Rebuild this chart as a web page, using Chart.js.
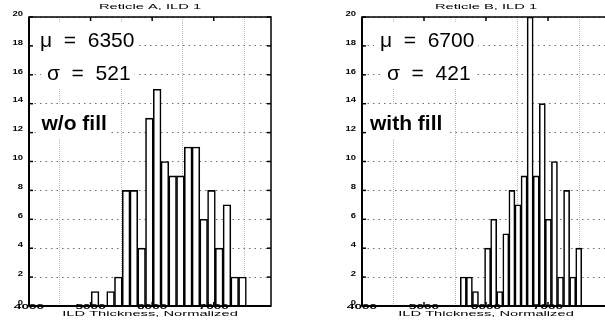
<!DOCTYPE html>
<html>
<head>
<meta charset="utf-8">
<script src="https://cdn.jsdelivr.net/npm/chart.js@4.4.1/dist/chart.umd.min.js"></script>
<style>
  html, body { margin: 0; padding: 0; background: #fff; }
  body { width: 605px; height: 322px; overflow: hidden; position: relative; }
  canvas { position: absolute; top: 0; }
  #histA { left: 0; }
  #histB { left: 300px; }
</style>
</head>
<body>
<canvas id="histA" width="300" height="322"></canvas>
<canvas id="histB" width="315" height="322"></canvas>
<script>
// Reticle A (w/o fill): bin centres and counts
const binsA = [5073, 5199, 5325, 5451, 5577, 5703, 5829, 5955, 6081, 6207,
               6333, 6459, 6585, 6711, 6837, 6963, 7089, 7215, 7341, 7467];
const countsA = [1, 0, 1, 2, 8, 8, 4, 13, 15, 10, 9, 9, 11, 11, 6, 8, 4, 7, 2, 2];

// Reticle B (with fill): bin centres and counts
const binsB = [5634, 5732, 5830, 5928, 6026, 6124, 6222, 6320, 6418, 6516,
               6614, 6712, 6810, 6908, 7006, 7104, 7202, 7300, 7398, 7496];
const countsB = [2, 2, 1, 0, 4, 6, 1, 5, 8, 7, 9, 20, 9, 14, 6, 10, 2, 8, 2, 4];

const xTicks = [4000, 5000, 6000, 7000];
const yTicks = [0, 2, 4, 6, 8, 10, 12, 14, 16, 18, 20];

const FONT = '"Liberation Sans", Arial, sans-serif';

// small axis text is drawn squat and wide
function wideText(ctx, text, x, y, sx, align) {
    ctx.save();
    ctx.translate(x, y);
    ctx.scale(sx, 1);
    ctx.textAlign = align;
    ctx.textBaseline = 'middle';
    ctx.fillText(text, 0, 0);
    ctx.restore();
}

function line(ctx, x1, y1, x2, y2) {
    ctx.beginPath();
    ctx.moveTo(x1, y1);
    ctx.lineTo(x2, y2);
    ctx.stroke();
}

// Boxed axes, inward ticks, labels and the text notes
const frame = {
    id: 'frame',
    beforeDatasetsDraw(chart, args, opts) {
        const { ctx } = chart;
        const x = chart.scales.x, y = chart.scales.y;
        ctx.save();
        opts.notes.forEach(n => {
            ctx.font = (n.bold ? 'bold ' : '') + '21px ' + FONT;
            const px = x.getPixelForValue(n.x);
            const py = y.getPixelForValue(n.y);
            const w = ctx.measureText(n.text).width;
            ctx.fillStyle = '#fff';
            ctx.fillRect(px - 6, py - 25, w + 10, 34);
            ctx.fillStyle = '#000';
            ctx.textAlign = 'left';
            ctx.textBaseline = 'alphabetic';
            ctx.fillText(n.text, px, py);
        });
        ctx.restore();
    },
    afterDatasetsDraw(chart, args, opts) {
        const { ctx, chartArea: a } = chart;
        const x = chart.scales.x, y = chart.scales.y;
        ctx.save();
        ctx.strokeStyle = '#000';
        ctx.lineWidth = 1.5;
        ctx.strokeRect(a.left, a.top, a.right - a.left, a.bottom - a.top);
        ctx.lineWidth = 2;
        line(ctx, a.left, a.top, a.left, a.bottom);
        line(ctx, a.left, a.bottom, a.right, a.bottom);

        ctx.lineWidth = 1.5;
        xTicks.forEach(v => {
            const px = x.getPixelForValue(v);
            line(ctx, px, a.bottom, px, a.bottom - 4);
            line(ctx, px, a.top, px, a.top + 4);
        });
        yTicks.forEach(v => {
            const py = y.getPixelForValue(v);
            line(ctx, a.left, py, a.left + 4, py);
            line(ctx, a.right, py, a.right - 4, py);
        });

        ctx.fillStyle = '#000';
        ctx.font = 'bold 6.5px ' + FONT;
        yTicks.forEach(v => {
            wideText(ctx, String(v), a.left - 6, y.getPixelForValue(v) - 3, 1.45, 'right');
        });
        xTicks.forEach(v => {
            wideText(ctx, String(v), x.getPixelForValue(v), a.bottom + 1, 2.1, 'center');
        });

        const mid = (a.left + a.right) / 2;
        ctx.font = '7px ' + FONT;
        wideText(ctx, opts.title, mid, 7, 2.1, 'center');
        wideText(ctx, 'ILD Thickness, Normalized', mid, 314, 2.1, 'center');
        ctx.restore();
    }
};

function makeHist(canvasId, bins, counts, xMax, padding, title, notes) {
    return new Chart(document.getElementById(canvasId), {
        type: 'bar',
        data: {
            datasets: [{
                data: bins.map((b, i) => ({ x: b, y: counts[i] })),
                backgroundColor: '#fff',
                borderColor: '#000',
                borderWidth: 1.6,
                categoryPercentage: 1,
                barPercentage: 1
            }]
        },
        options: {
            responsive: false,
            animation: false,
            events: [],
            layout: { padding: padding },
            plugins: {
                legend: { display: false },
                tooltip: { enabled: false },
                frame: { title: title, notes: notes }
            },
            scales: {
                x: {
                    type: 'linear',
                    min: 4000,
                    max: xMax,
                    offset: false,
                    afterBuildTicks: s => { s.ticks = xTicks.map(v => ({ value: v })); },
                    ticks: { display: false },
                    grid: { drawTicks: false, color: '#bdbdbd', lineWidth: 1 },
                    border: { display: false, dash: [1, 1] }
                },
                y: {
                    min: 0,
                    max: 20,
                    afterBuildTicks: s => { s.ticks = yTicks.map(v => ({ value: v })); },
                    ticks: { display: false },
                    grid: { drawTicks: false, color: '#6e6e6e', lineWidth: 1 },
                    border: { display: false, dash: [1.5, 4] }
                }
            }
        },
        plugins: [frame]
    });
}

makeHist('histA', binsA, countsA, 7930,
    { left: 29, right: 29, top: 17, bottom: 16 },
    'Reticle A, ILD 1',
    [
        { text: 'μ  =  6350', x: 4179, y: 17.92 },
        { text: 'σ  =  521', x: 4292, y: 15.64 },
        { text: 'w/o fill', x: 4203, y: 12.18, bold: true }
    ]);

makeHist('histB', binsB, countsB, 8000,
    { left: 62, right: 5, top: 17, bottom: 16 },
    'Reticle B, ILD 1',
    [
        { text: 'μ  =  6700', x: 4290, y: 17.92 },
        { text: 'σ  =  421', x: 4403, y: 15.64 },
        { text: 'with fill', x: 4129, y: 12.18, bold: true }
    ]);
</script>
</body>
</html>
